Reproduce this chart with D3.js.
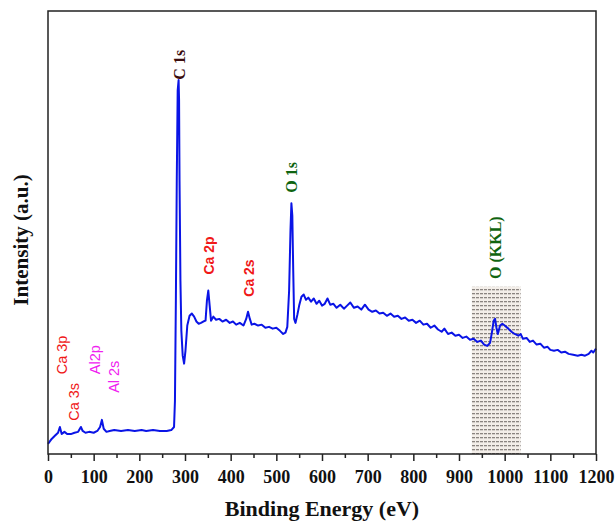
<!DOCTYPE html>
<html>
<head>
<meta charset="utf-8">
<script src="https://cdn.jsdelivr.net/npm/d3@7"></script>
<style>
  body { margin: 0; background: #fff; }
  svg { display: block; }
</style>
</head>
<body>
<div class="chart"></div>
<script>
// XPS survey spectrum (intensity in arbitrary units)
const energy = [0, 8, 15, 22, 26, 30, 36, 42, 50, 58, 66, 72, 76, 82, 90, 100, 108, 114, 118, 122,
  128, 135, 145, 160, 175, 190, 205, 215, 230, 245, 260, 270, 276, 278, 280, 282, 284, 286, 287, 288,
  290, 292, 295, 298, 301, 305, 310, 315, 320, 325, 330, 335, 340, 345, 348, 351, 354, 357, 362, 368,
  375, 382, 390, 398, 405, 412, 420, 428, 434, 438, 442, 446, 452, 460, 468, 476, 484, 492, 500, 508,
  515, 520, 524, 528, 531, 533, 535, 537, 539, 542, 546, 550, 555, 560, 565, 570, 576, 582, 588, 594,
  600, 606, 612, 618, 625, 632, 640, 648, 655, 662, 670, 678, 686, 694, 702, 710, 718, 726, 734, 742,
  750, 758, 766, 774, 782, 790, 798, 806, 814, 822, 830, 838, 846, 854, 862, 868, 876, 884, 892, 900,
  908, 916, 924, 932, 940, 948, 955, 962, 968, 972, 976, 979, 982, 985, 990, 995, 1000, 1008, 1015, 1022,
  1030, 1035, 1040, 1048, 1055, 1062, 1070, 1078, 1086, 1094, 1100, 1108, 1116, 1124, 1132, 1140, 1150, 1160, 1168, 1176,
  1184, 1190, 1194, 1200]
const intensity = [2.3, 3.4, 4.1, 4.8, 6.1, 4.5, 5.0, 4.5, 4.5, 4.8, 5.0, 6.1, 5.2, 4.8, 5.0, 4.8, 5.2, 6.1, 7.7, 5.7,
  5.0, 5.2, 5.4, 5.2, 5.4, 5.2, 5.4, 5.2, 5.4, 5.2, 5.2, 5.4, 6.1, 12.0, 34.6, 61.8, 82.1, 84.4, 79.9, 61.8,
  39.1, 27.8, 22.2, 20.4, 23.3, 29.0, 31.2, 31.7, 31.0, 29.9, 29.4, 29.6, 29.9, 30.1, 34.6, 36.9, 33.5, 30.1, 31.0, 30.3,
  30.5, 29.9, 30.3, 29.6, 29.9, 29.2, 29.6, 29.0, 30.5, 32.1, 30.5, 29.2, 29.4, 29.0, 29.2, 28.5, 28.7, 28.3, 28.5, 27.8,
  27.1, 27.4, 28.7, 36.9, 50.5, 56.6, 53.8, 41.4, 30.5, 29.6, 31.4, 33.5, 35.5, 36.0, 34.8, 35.3, 34.4, 35.1, 33.9, 34.6,
  33.5, 33.9, 35.1, 33.7, 33.9, 33.0, 33.7, 32.8, 33.5, 34.2, 33.0, 33.3, 32.6, 33.7, 32.6, 32.1, 32.4, 31.7, 31.9, 31.2,
  31.7, 31.0, 31.2, 30.5, 30.8, 30.1, 30.3, 29.6, 30.1, 29.2, 29.4, 28.5, 29.0, 28.1, 27.6, 28.3, 27.1, 27.4, 26.7, 26.9,
  26.2, 26.5, 25.8, 26.0, 25.3, 25.6, 24.7, 24.4, 25.1, 27.4, 30.1, 30.5, 28.5, 27.1, 29.0, 29.4, 29.0, 28.3, 27.6, 27.1,
  26.7, 27.1, 26.0, 26.2, 25.3, 25.6, 24.7, 24.9, 24.0, 24.2, 23.5, 23.3, 23.5, 22.9, 23.1, 22.6, 22.4, 22.2, 22.4, 22.2,
  22.6, 23.3, 22.9, 23.8]

const xTicks = [0, 100, 200, 300, 400, 500, 600, 700, 800, 900, 1000, 1100, 1200]

// peak labels: text, energy, intensity where the label starts, kind
const peakNames = ["C 1s", "O 1s", "Ca 2p", "Ca 2s", "O (KKL)", "Ca 3p", "Ca 3s", "Al2p", "Al 2s"]
const peakE = [286, 533, 350, 438, 979, 28, 55, 100, 143]
const peakI = [84.5, 59, 40.5, 35.5, 39.5, 18, 7.5, 18, 13.8]
const peakKind = ["c", "o", "ca", "ca", "o", "ca3", "ca3", "al", "al"]

// shaded O (KKL) region
const regionE = [928, 1035]
const regionTop = 37.8

const width = 616
const height = 522
const margin = { top: 11, right: 20, bottom: 68, left: 48 }
const serif = "'Liberation Serif', 'Times New Roman', serif"
const sans = "'Liberation Sans', Arial, sans-serif"

const svg = d3.select(".chart").append("svg")
  .attr("width", width)
  .attr("height", height)

const x = d3.scaleLinear().domain([0, 1200]).range([margin.left, width - margin.right])
const y = d3.scaleLinear().domain([0, 100]).range([height - margin.bottom, margin.top])

const defs = svg.append("defs")
const pat = defs.append("pattern")
  .attr("id", "dots")
  .attr("width", 4)
  .attr("height", 4)
  .attr("patternUnits", "userSpaceOnUse")
pat.append("rect").attr("width", 4).attr("height", 4).attr("fill", "#f3eee9")
pat.append("rect").attr("x", 0).attr("y", 1).attr("width", 3).attr("height", 1.3).attr("fill", "#8a8480")

svg.append("rect")
  .attr("x", x(regionE[0]))
  .attr("y", y(regionTop))
  .attr("width", x(regionE[1]) - x(regionE[0]))
  .attr("height", y(0) - y(regionTop))
  .attr("fill", "url(#dots)")

const line = d3.line()
  .x((d, i) => x(energy[i]))
  .y(d => y(d))

svg.append("path")
  .datum(intensity)
  .attr("fill", "none")
  .attr("stroke", "#0a14e6")
  .attr("stroke-width", 2)
  .attr("stroke-linejoin", "round")
  .attr("d", line)

// frame
svg.append("rect")
  .attr("x", margin.left)
  .attr("y", margin.top)
  .attr("width", width - margin.left - margin.right)
  .attr("height", height - margin.top - margin.bottom)
  .attr("fill", "none")
  .attr("stroke", "#222")
  .attr("stroke-width", 1.5)

// bottom axis, major and minor ticks
const xAxis = svg.append("g")
  .attr("transform", "translate(0," + y(0) + ")")
  .call(d3.axisBottom(x).tickValues(xTicks).tickSize(7).tickFormat(d3.format("d")))
  .attr("font-family", serif)
  .attr("font-size", 18)
  .attr("font-weight", "bold")
xAxis.select(".domain").remove()
xAxis.selectAll("line").attr("stroke", "#222").attr("stroke-width", 1.5)
xAxis.selectAll("text")
  .attr("y", 16)
  .attr("dy", "0.71em")
  .attr("fill", "#111")

svg.append("g")
  .attr("transform", "translate(0," + y(0) + ")")
  .call(d3.axisBottom(x).tickValues(d3.range(50, 1200, 100)).tickSize(4).tickFormat(""))
  .call(g => g.select(".domain").remove())
  .selectAll("line").attr("stroke", "#222").attr("stroke-width", 1.5)

svg.append("text")
  .attr("x", (x(0) + x(1200)) / 2)
  .attr("y", 516)
  .attr("text-anchor", "middle")
  .attr("font-family", serif)
  .attr("font-weight", "bold")
  .attr("font-size", 22)
  .attr("fill", "#111")
  .text("Binding Energy (eV)")

svg.append("text")
  .attr("transform", "translate(28,240) rotate(-90)")
  .attr("text-anchor", "middle")
  .attr("font-family", serif)
  .attr("font-weight", "bold")
  .attr("font-size", 21)
  .attr("fill", "#111")
  .text("Intensity (a.u.)")

const labelStyle = {
  c: { color: "#3a0c0c", font: serif, weight: "bold", size: 16 },
  o: { color: "#0f6410", font: serif, weight: "bold", size: 16 },
  ca: { color: "#f01818", font: sans, weight: "bold", size: 14 },
  ca3: { color: "#f01818", font: sans, weight: "normal", size: 14.5 },
  al: { color: "#f020f0", font: sans, weight: "normal", size: 14.5 }
}

peakNames.forEach((name, i) => {
  const s = labelStyle[peakKind[i]]
  svg.append("text")
    .attr("transform", "translate(" + (x(peakE[i]) + 6) + "," + y(peakI[i]) + ") rotate(-90)")
    .attr("text-anchor", "start")
    .attr("font-family", s.font)
    .attr("font-weight", s.weight)
    .attr("font-size", s.size)
    .attr("fill", s.color)
    .text(name)
})
</script>
</body>
</html>
